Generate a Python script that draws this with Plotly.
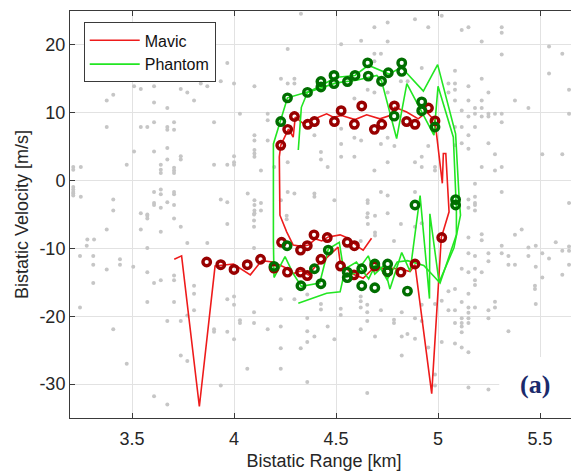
import plotly.graph_objects as go

# ---------------- data ----------------
# Mavic track (bistatic range km, bistatic velocity m/s)
mavic_range = [3.707, 3.743, 3.83, 3.907, 3.997, 4.08, 4.135, 4.19, 4.25, 4.29, 4.33, 4.365, 4.40, 4.45,
               4.51, 4.52, 4.576, 4.633, 4.68, 4.75, 4.81, 4.863, 4.887, 4.969, 5.016, 5.054, 5.038,
               5.026, 5.021, 4.985, 4.944, 4.903, 4.846, 4.789, 4.764, 4.715, 4.65, 4.593, 4.528, 4.487,
               4.454, 4.392, 4.34, 4.30, 4.29, 4.267, 4.229, 4.222, 4.225, 4.258, 4.29, 4.33, 4.365,
               4.40, 4.43, 4.462, 4.52, 4.56, 4.61, 4.633, 4.674]
mavic_vel = [-11.6, -11.1, -33.3, -12.6, -12.3, -13.9, -11.8, -12.0, -12.8, -13.7, -13.3, -13.9, -12.6, -11.5,
             -9.8, -12.0, -13.7, -14.4, -13.0, -12.9, -13.0, -13.4, -12.4, -31.4, -8.4, -4.6, 4.0,
             4.0, -0.4, 8.8, 10.1, 9.1, 10.1, 10.8, 9.6, 9.1, 9.7, 9.0, 9.6, 9.35,
             9.85, 9.1, 8.4, 9.35, 6.4, 7.6, 5.2, 3.5, -5.1, -7.55, -9.5, -9.7, -9.5,
             -8.6, -8.9, -8.3, -8.0, -8.5, -9.8, -10.25, -8.5]

# Phantom track (two passes, separated by None)
phantom_range = [4.196, 4.193, 4.193, 4.229, 4.262, 4.364, 4.43, 4.494, 4.593, 4.658, 4.76, 4.82, 4.928,
                 4.998, 5.08, 5.086, 5.103, 5.11, 5.078, 5.005, 4.96, 4.958, 4.912, 4.863, 4.822, 4.764,
                 4.735, 4.69, 4.658, 4.60, 4.543, 4.516, 4.462, 4.42, 4.33, 4.29, 4.25, 4.196, None,
                 4.315, 4.454, 4.52, 4.545, 4.60, 4.66, 4.70, 4.75, 4.80, 4.85, 4.93, 5.01, 5.09, 5.09,
                 5.075, 5.0, 4.98, 4.847, 4.797, 4.723, 4.70, 4.60, 4.50, 4.42, 4.36, 4.33, 4.315]
phantom_vel = [-14.3, -8.8, 5.4, 8.9, 12.2, 13.1, 14.0, 15.2, 15.5, 17.0, 15.7, 16.7, 13.2,
               17.1, 7.9, 6.9, -2.4, -5.1, -9.9, -15.0, -4.9, -17.4, -2.2, -13.4, -10.6, -16.0,
               -12.5, -13.8, -11.1, -13.5, -14.3, -9.1, -10.1, -15.1, -15.6, -13.7, -11.2, -14.3, None,
               -18.1, -16.6, -16.4, -13.0, -12.0, -14.5, -12.0, -14.6, -12.0, -11.8, -12.5, -15.1, -8.0, -4.4,
               6.4, 13.9, 6.7, 14.3, 6.2, 14.7, 15.5, 14.8, 14.4, 13.6, 13.0, 10.8, 4.5]

# Detections
mavic_det_range = [3.866, 3.935, 4.0, 4.065, 4.13, 4.196, 4.233, 4.262, 4.326, 4.359, 4.392, 4.457, 4.326,
                   4.359, 4.426, 4.555, 4.59, 4.522, 4.588, 4.69, 4.753, 4.818, 4.887, 5.018,
                   4.229, 4.263, 4.296, 4.361, 4.394, 4.492, 4.525, 4.59, 4.626, 4.688, 4.724, 4.786,
                   4.846, 4.887, 4.953, 4.985]
mavic_det_vel = [-12.0, -12.4, -13.1, -12.4, -11.6, -12.9, -9.1, -13.5, -10.25, -9.6, -8.0, -8.4, -13.5,
                 -14.0, -11.6, -9.1, -9.6, -12.6, -13.9, -12.6, -13.4, -13.5, -12.3, -8.4,
                 5.2, 7.55, 9.45, 8.3, 8.7, 8.7, 10.3, 8.3, 11.0, 7.55, 8.3, 11.0,
                 8.7, 8.3, 10.7, 8.8]
phantom_det_range = [4.229, 4.262, 4.36, 4.426, 4.426, 4.49, 4.49, 4.556, 4.593, 4.655, 4.658, 4.723,
                     4.756, 4.822, 4.822, 4.785, 4.92, 4.92, 4.985, 4.887, 5.086, 5.086,
                     4.196, 4.26, 4.328, 4.394, 4.426, 4.462, 4.555, 4.555, 4.626, 4.626, 4.69, 4.69,
                     4.753, 4.753, 4.85]
phantom_det_vel = [8.7, 12.2, 13.0, 14.6, 13.8, 15.5, 14.3, 14.6, 15.5, 17.35, 15.4, 14.65,
                   15.9, 17.35, 16.1, 9.5, 11.6, 10.3, 7.9, -3.6, -2.8, -3.6,
                   -12.65, -9.6, -15.5, -13.0, -15.2, -10.25, -13.5, -14.3, -13.0, -15.5, -12.3, -15.8,
                   -12.3, -13.4, -16.3]

# Background (clutter) detections, (range km, velocity m/s)
clutter = [
    (3.967, 17.35), (3.673, 16.2), (3.804, 16.6), (3.575, 15.0), (3.673, 15.0), (3.739, 15.4), (3.804, 15.4),
    (3.837, 14.3), (3.869, 15.0), (3.869, 13.9), (3.935, 14.65), (4.000, 14.3), (3.510, 13.9), (3.543, 13.5),
    (3.608, 13.9), (3.739, 13.5), (3.771, 13.0), (3.804, 11.8), (3.408, 12.65), (3.376, 11.8), (3.608, 11.5),
    (3.673, 10.7), (3.376, 7.9), (3.543, 7.9), (3.575, 7.9), (3.608, 8.6), (3.673, 7.9), (3.673, 7.5),
    (3.706, 8.6), (3.706, 7.5), (3.902, 8.6), (3.510, 4.3), (3.608, 4.3), (3.673, 4.8), (3.673, 3.1),
    (3.739, 3.6), (3.739, 3.1), (3.474, 2.35), (3.641, 2.35), (3.641, 1.6), (3.641, 1.1), (3.706, 1.9),
    (3.706, 1.5), (3.706, 1.1), (3.902, 2.35), (3.967, 2.35), (4.000, 2.7), (4.000, 2.35), (4.000, 3.6),
    (3.212, 2.0), (3.212, 1.6), (3.249, 2.0), (3.212, -0.95), (3.212, -1.3), (3.212, -1.7), (3.212, -1.9),
    (3.212, -2.2), (3.249, -2.4), (3.408, -2.8), (3.408, -4.4), (3.543, -4.8), (3.575, -5.0), (3.608, -1.7),
    (3.641, -1.3), (3.641, -2.0), (3.706, -1.7), (3.706, -2.0), (3.608, -3.3), (3.608, -3.6), (3.641, -4.0),
    (3.673, -3.2), (3.706, -3.6), (3.935, -2.8), (3.967, -3.2), (3.376, -7.2), (3.281, -8.7), (3.314, -8.7),
    (3.575, -5.2), (3.575, -5.6), (3.706, -5.6), (3.739, -6.8), (3.967, -6.4), (3.543, -7.2), (3.641, -7.55),
    (3.771, -9.2), (3.869, -9.2), (3.278, -9.6), (3.575, -9.95), (3.245, -11.1), (3.310, -11.1),
    (3.310, -12.4), (3.441, -11.6), (3.441, -12.4), (3.376, -13.1), (3.506, -12.7), (3.575, -13.5),
    (3.706, -14.0), (3.706, -14.7), (3.641, -14.7), (3.608, -15.1), (3.310, -15.1), (3.804, -15.5),
    (3.804, -16.7), (3.804, -19.1), (3.575, -17.9), (3.706, -17.9), (3.245, -18.7), (3.771, -19.9),
    (3.673, -20.7), (3.739, -20.7), (3.967, -17.5), (4.000, -17.1), (4.000, -18.3), (3.902, -21.9),
    (3.902, -22.3), (3.967, -22.3), (4.000, -23.4), (3.408, -21.9), (3.474, -27.0), (3.739, -25.8),
    (3.771, -26.6), (3.935, -30.2), (3.608, -31.8), (3.673, -33.0), (4.029, -20.6),
    (4.328, 24.6), (4.688, 22.6), (4.753, 23.3), (4.525, 20.1), (4.623, 20.6), (4.688, 18.7), (4.720, 18.7),
    (4.263, 19.4), (4.230, 15.0), (4.263, 14.3), (4.296, 15.0), (4.296, 14.3), (4.100, 13.9), (4.688, 17.6),
    (4.818, 14.65), (4.851, 14.65), (4.590, 12.1), (4.655, 13.4), (4.688, 13.0), (4.753, 13.0), (4.029, 9.85),
    (4.165, 9.85), (4.165, 8.9), (4.100, 6.7), (4.100, 5.9), (4.100, 4.5), (4.100, 4.0), (4.100, 3.5),
    (4.165, 5.9), (4.394, 6.7), (4.525, 7.65), (4.590, 6.3), (4.623, 5.9), (4.720, 5.4), (4.753, 6.3),
    (4.786, 5.1), (4.426, 4.2), (4.426, 3.1), (4.525, 5.4), (4.525, 3.5), (4.590, 3.5), (4.459, 2.0),
    (4.132, 1.5), (4.197, 2.0), (4.263, 2.7), (4.688, 1.5), (4.753, 2.7), (4.067, -1.9), (4.100, -2.9),
    (4.100, -3.6), (4.100, -4.4), (4.100, -4.8), (4.132, -3.3), (4.132, -4.4), (4.263, -1.7), (4.296, -1.9),
    (4.394, -1.9), (4.394, -2.4), (4.492, -2.9), (4.655, -2.9), (4.655, -3.3), (4.720, -1.7), (4.753, -2.2),
    (4.655, -4.8), (4.753, -4.8), (4.230, -2.9), (4.753, 20.5),
    (4.887, 23.8), (4.952, 22.6), (5.018, 24.3), (5.116, 22.2), (5.149, 22.6), (5.214, 20.5), (5.312, 22.6),
    (5.312, 21.8), (5.312, 18.6), (5.544, 19.75), (5.609, 18.7), (5.544, 15.8), (5.642, 13.4), (4.920, 16.6),
    (5.083, 16.2), (5.214, 15.0), (5.051, 14.3), (5.083, 14.3), (5.051, 13.0), (5.083, 13.4), (5.149, 13.9),
    (5.247, 13.0), (5.083, 11.8), (5.149, 11.8), (5.214, 11.8), (5.377, 11.8), (5.116, 10.35), (5.181, 10.7),
    (5.181, 9.85), (5.214, 10.7), (5.214, 9.45), (5.247, 9.85), (5.247, 9.45), (5.279, 9.85), (5.312, 9.85),
    (5.312, 8.6), (5.149, 9.45), (5.443, 10.7), (5.642, 9.85), (5.083, 7.9), (5.116, 7.9), (5.181, 7.9),
    (5.149, 6.7), (5.116, 5.5), (5.083, 5.2), (5.149, 4.7), (5.247, 5.5), (5.279, 3.9), (5.511, 3.9),
    (5.609, 3.9), (4.952, 5.1), (4.920, 3.5), (4.887, 2.7), (4.920, 2.0), (4.985, 2.0), (4.985, 1.5),
    (5.214, 2.0), (5.279, 1.5), (5.312, 2.0), (5.181, -0.45), (4.887, -1.7), (5.149, -2.8), (5.181, -2.4),
    (5.181, -3.3), (5.181, -3.6), (5.149, -4.0), (5.181, -4.4), (5.312, -1.7), (5.642, -3.3),
    (4.920, -6.3), (4.887, -6.8), (5.149, -8.4), (5.214, -7.9), (5.214, -8.8), (5.377, -8.0), (5.410, -7.2),
    (5.312, -9.6), (5.443, -9.85), (5.479, -9.6), (5.577, -9.1), (5.609, -10.35), (5.642, -9.7), (5.675, -9.7),
    (5.642, -10.35), (5.149, -10.7), (5.181, -11.1), (5.247, -10.7), (5.247, -11.9), (5.312, -10.7),
    (5.345, -11.1), (5.345, -12.4), (5.377, -12.4), (5.443, -11.1), (5.511, -10.7), (5.544, -11.5),
    (5.479, -12.7), (5.642, -12.4), (5.116, -13.0), (5.149, -13.5), (5.181, -13.0), (5.214, -13.5),
    (5.181, -14.7), (5.181, -15.4), (5.149, -16.7), (5.083, -16.0), (5.051, -16.3), (5.116, -17.9),
    (5.083, -19.1), (5.051, -19.1), (5.018, -17.7), (4.920, -18.3), (4.985, -18.2), (5.149, -18.7),
    (5.149, -19.5), (5.181, -18.7), (5.247, -19.1), (5.247, -20.3), (5.279, -17.85), (5.279, -18.7),
    (5.116, -20.3), (5.149, -20.3), (4.887, -20.3), (4.920, -20.7), (5.083, -21.0), (5.116, -21.0),
    (5.116, -21.5), (5.116, -22.35), (5.149, -21.0), (5.345, -22.2), (5.475, -15.5), (5.475, -16.0),
    (5.479, -18.2), (5.511, -14.3), (5.609, -13.9), (4.887, -23.3), (4.952, -24.6), (5.018, -23.8),
    (5.083, -24.0), (5.116, -24.6), (5.149, -25.3), (4.985, -28.6), (4.985, -30.2), (5.149, -30.5),
    (5.247, -30.8),
    (4.098, -5.0), (4.098, -5.9), (4.258, -5.2), (4.258, -5.7), (4.098, -6.8), (4.653, -5.4), (4.691, -5.2),
    (4.656, -6.4), (4.691, -7.65), (4.691, -8.1), (4.621, -8.9), (4.784, -8.9), (4.818, -6.4), (4.098, -9.95),
    (4.229, -17.5), (4.296, -17.5), (4.359, -16.8), (4.426, -18.2), (4.426, -19.0), (4.523, -18.9),
    (4.523, -19.8), (4.621, -17.1), (4.621, -17.8), (4.621, -18.7), (4.653, -18.3), (4.653, -19.4),
    (4.720, -19.1), (4.784, -20.5), (4.784, -21.0), (4.822, -19.4), (4.029, -21.0), (4.098, -21.0),
    (4.165, -21.9), (4.229, -21.5), (4.359, -20.25), (4.359, -22.2), (4.394, -23.0), (4.359, -23.8),
    (4.459, -21.5), (4.492, -23.4), (4.621, -21.9), (4.653, -20.7), (4.691, -23.0), (4.822, -23.0),
    (4.850, -22.6), (4.229, -24.7), (4.327, -24.7), (4.065, -27.75), (4.229, -27.75), (4.359, -29.7),
    (4.653, -31.3), (4.822, -25.8), (4.098, -19.4),
]
clutter_range = [p[0] for p in clutter]
clutter_vel = [p[1] for p in clutter]

x_ticks = [3.5, 4, 4.5, 5, 5.5]
x_tick_text = ["3.5", "4", "4.5", "5", "5.5"]
y_ticks = [-30, -20, -10, 0, 10, 20]
y_tick_text = ["-30", "-20", "-10", "0", "10", "20"]

# ---------------- styles ----------------
RED = "#ee1b1b"
GREEN = "#22e622"
DRED = "#980000"
DGREEN = "#006e00"
FONT = "Liberation Sans, Arial, Helvetica, sans-serif"

fig = go.Figure()
fig.add_trace(go.Scatter(x=clutter_range, y=clutter_vel, mode="markers",
                         marker=dict(size=4, color="#c6c6c6"), showlegend=False, hoverinfo="skip"))
fig.add_trace(go.Scatter(x=mavic_range, y=mavic_vel, mode="lines", name="Mavic",
                         line=dict(color=RED, width=1.6)))
fig.add_trace(go.Scatter(x=phantom_range, y=phantom_vel, mode="lines", name="Phantom",
                         line=dict(color=GREEN, width=1.6), connectgaps=False))
fig.add_trace(go.Scatter(x=mavic_det_range, y=mavic_det_vel, mode="markers", showlegend=False,
                         marker=dict(symbol="circle-open", size=7.5, color=DRED, line=dict(width=3.4, color=DRED))))
fig.add_trace(go.Scatter(x=phantom_det_range, y=phantom_det_vel, mode="markers", showlegend=False,
                         marker=dict(symbol="circle-open", size=7.5, color=DGREEN, line=dict(width=3.4, color=DGREEN))))

fig.add_shape(type="rect", xref="x", yref="y", x0=5.30, x1=5.70, y0=-35, y1=-26,
              fillcolor="white", line=dict(width=0), layer="between")
fig.add_annotation(x=5.475, y=-30.1, xref="x", yref="y", text="<b>(a)</b>", showarrow=False,
                   font=dict(family="Liberation Serif, Times New Roman, serif", size=26, color="#1b2a6b"))

axis_common = dict(showgrid=True, gridcolor="#e2e2e2", gridwidth=1, zeroline=False, showline=True,
                   linecolor="#3a3a3a", linewidth=1, mirror="allticks", ticks="inside", ticklen=5,
                   tickcolor="#3a3a3a", tickfont=dict(size=18, color="#262626", family=FONT))
fig.update_xaxes(range=[3.196, 5.686], tickvals=x_ticks, ticktext=x_tick_text, ticklabelstandoff=4,
                 title=dict(text="Bistatic Range [km]", font=dict(size=18, color="#262626", family=FONT), standoff=6),
                 **axis_common)
fig.update_yaxes(range=[-35, 25], tickvals=y_ticks, ticktext=y_tick_text,
                 title=dict(text="Bistatic Velocity [m/s]", font=dict(size=18, color="#262626", family=FONT), standoff=6),
                 **axis_common)

# page body has an 8px margin, so the figure is offset by 8px in the window
fig.update_layout(
    width=571, height=466,
    margin=dict(l=62, r=1, t=3, b=56, autoexpand=False),
    plot_bgcolor="white", paper_bgcolor="white",
    font=dict(family=FONT, size=16, color="#262626"),
    legend=dict(x=0.027, y=0.972, xanchor="left", yanchor="top", bgcolor="white",
                bordercolor="#3a3a3a", borderwidth=1, font=dict(size=16, color="#111111"),
                itemwidth=50, tracegroupgap=0),
)

fig.write_html("out.html")
